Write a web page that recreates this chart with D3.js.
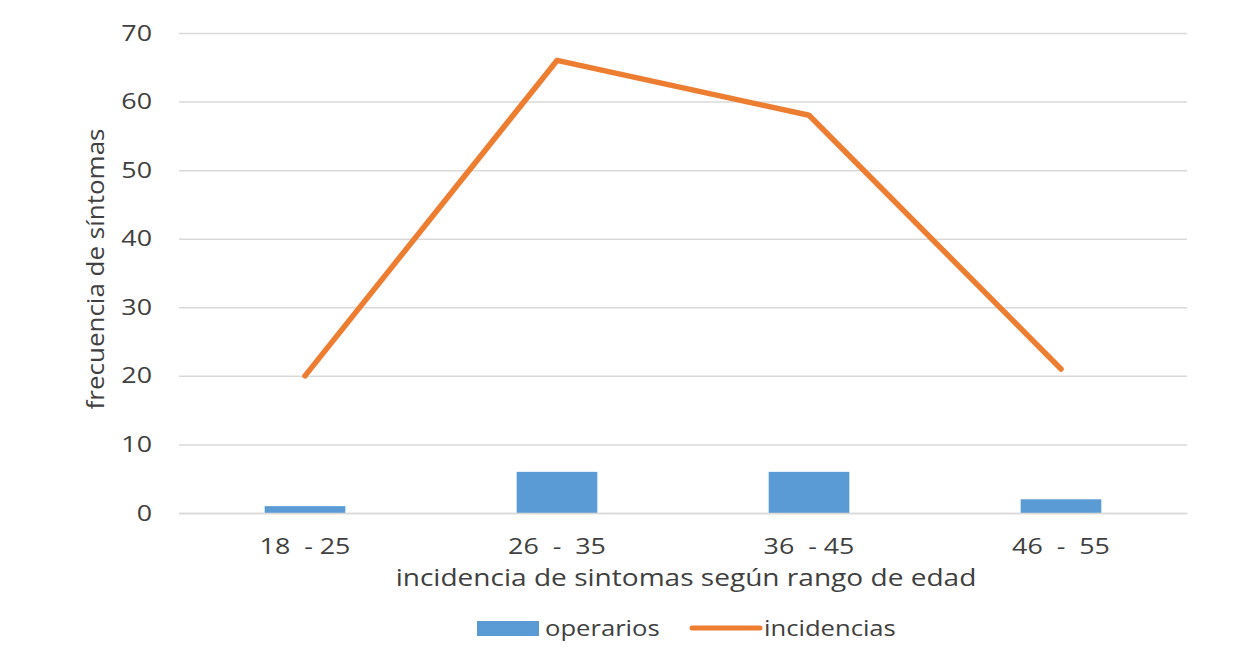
<!DOCTYPE html>
<html><head><meta charset="utf-8">
<script src="https://cdn.jsdelivr.net/npm/d3@7"></script>
<style>body{margin:0;background:#fff;}svg{display:block;}text{font-family:"Open Sans",Calibri,sans-serif;}</style>
</head><body><svg id="c" width="1249" height="652"></svg>
<script>
const categories = ["18  - 25", "26  -  35", "36  - 45", "46  -  55"];
const operarios = [1, 6, 6, 2];
const incidencias = [20, 66, 58, 21];
const yTicks = [0, 10, 20, 30, 40, 50, 60, 70];

const svg = d3.select("#c");
const m = {l: 179, r: 62, t: 33, b: 139};
const W = 1249, H = 652;
const SX = 1.22;
const x = d3.scaleBand().domain(categories).range([m.l, W - m.r]).paddingInner(0.68).paddingOuter(0.34);
const y = d3.scaleLinear().domain([0, 70]).range([H - m.b, m.t]);
const textCol = "#404040";

function stretch(sel, s = SX) {
  sel.each(function() {
    const t = d3.select(this);
    const tx = +t.attr("x") || 0, ty = +t.attr("y") || 0;
    const prev = t.attr("transform") || "";
    t.attr("x", 0).attr("y", 0).attr("transform", `${prev} translate(${tx},${ty}) scale(${s},1)`);
  });
}

// gridlines
const yAxis = d3.axisLeft(y).tickValues(yTicks).tickSize(-(W - m.l - m.r)).tickPadding(27);
const gy = svg.append("g").attr("transform", `translate(${m.l},0)`).call(yAxis);
gy.attr("font-family", null);
gy.select(".domain").remove();
gy.selectAll(".tick line").attr("stroke", "#d9d9d9").attr("stroke-width", 1.5);
gy.selectAll(".tick text").attr("fill", textCol).attr("font-size", 22).call(stretch);

// bars
svg.append("g").selectAll("rect").data(operarios).join("rect")
  .attr("x", (d, i) => x(categories[i]))
  .attr("width", x.bandwidth())
  .attr("y", d => y(d))
  .attr("height", d => y(0) - y(d))
  .attr("fill", "#5B9BD5");

// x axis
const xAxis = d3.axisBottom(x).tickSize(0).tickPadding(25);
const gx = svg.append("g").attr("transform", `translate(0,${y(0)})`).call(xAxis);
gx.attr("font-family", null);
gx.select(".domain").attr("stroke", "#d9d9d9").attr("stroke-width", 1.5);
gx.selectAll(".tick text").attr("fill", textCol).attr("font-size", 22).style("white-space", "pre").call(stretch);

// line
const cx = (i) => x(categories[i]) + x.bandwidth() / 2;
const line = d3.line().x((d, i) => cx(i)).y(d => y(d));
svg.append("path").datum(incidencias).attr("d", line)
  .attr("fill", "none").attr("stroke", "#ED7D31").attr("stroke-width", 5.5)
  .attr("stroke-linejoin", "round").attr("stroke-linecap", "round");

// axis titles
svg.append("text").attr("x", 686).attr("y", 586).attr("text-anchor", "middle")
  .attr("fill", textCol).attr("font-size", 23).text("incidencia de sintomas según rango de edad").call(stretch);
svg.append("text").attr("transform", `translate(104,269) rotate(-90) scale(1.13,1)`)
  .attr("text-anchor", "middle").attr("fill", textCol).attr("font-size", 23).text("frecuencia de síntomas");

// legend
const lg = svg.append("g");
lg.append("rect").attr("x", 477).attr("y", 621).attr("width", 62).attr("height", 15).attr("fill", "#5B9BD5");
lg.append("text").attr("x", 545).attr("y", 636).attr("fill", textCol).attr("font-size", 21).text("operarios").call(stretch);
lg.append("line").attr("x1", 692).attr("x2", 760).attr("y1", 628).attr("y2", 628)
  .attr("stroke", "#ED7D31").attr("stroke-width", 5).attr("stroke-linecap", "round");
lg.append("text").attr("x", 764).attr("y", 636).attr("fill", textCol).attr("font-size", 21).text("incidencias").call(stretch);
</script></body></html>
